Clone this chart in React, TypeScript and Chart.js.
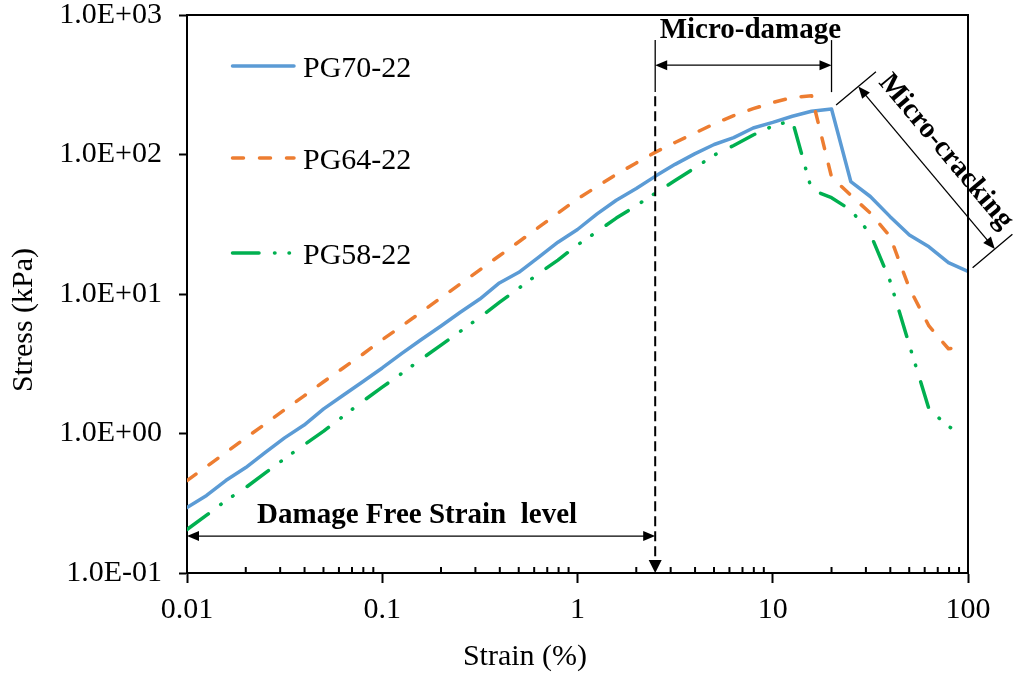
import React, { useEffect, useRef } from 'react';
import { Chart, registerables } from 'chart.js';

Chart.register(...registerables);

// Strain (%) and stress (kPa) readings for each binder grade
const PG70_STRAIN = [0.01, 0.0126, 0.0158, 0.02, 0.0251, 0.0316, 0.0398, 0.0501, 0.0631, 0.0794, 0.1, 0.126, 0.158, 0.2, 0.251, 0.316, 0.398, 0.501, 0.631, 0.794, 1, 1.26, 1.58, 2, 2.51, 3.16, 3.98, 5.01, 6.31, 7.94, 10, 12.6, 15.8, 20, 25.1, 31.6, 39.8, 50.1, 63.1, 79.4, 100];
const PG70_STRESS = [0.295, 0.36, 0.46, 0.57, 0.73, 0.93, 1.15, 1.5, 1.88, 2.35, 2.95, 3.75, 4.7, 5.9, 7.4, 9.2, 12.0, 14.3, 18.3, 23.5, 29, 37.5, 47, 57, 70, 85, 101, 118, 132, 155, 170, 188, 204, 212, 64, 50, 36, 26.5, 21.8, 16.8, 14.5];

const PG64_STRAIN = [0.01, 0.0126, 0.0158, 0.02, 0.0251, 0.0316, 0.0398, 0.0501, 0.0631, 0.0794, 0.1, 0.126, 0.158, 0.2, 0.251, 0.316, 0.398, 0.501, 0.631, 0.794, 1, 1.26, 1.58, 2, 2.51, 3.16, 3.98, 5.01, 6.31, 7.94, 10, 12.6, 15.8, 20, 25.1, 31.6, 39.8, 50.1, 63.1, 79.4, 85];
const PG64_STRESS = [0.46, 0.58, 0.73, 0.93, 1.17, 1.48, 1.86, 2.35, 2.95, 3.7, 4.7, 5.9, 7.4, 9.4, 11.8, 14.9, 18.8, 23.7, 30, 38, 48, 59, 72, 87, 104, 122, 142, 166, 190, 213, 236, 256, 264, 69, 51, 38, 26, 11, 5.9, 4.05, 4.1];

const PG58_STRAIN = [0.01, 0.0126, 0.0158, 0.02, 0.0251, 0.0316, 0.0398, 0.0501, 0.0631, 0.0794, 0.1, 0.126, 0.158, 0.2, 0.251, 0.316, 0.398, 0.501, 0.631, 0.794, 1, 1.26, 1.58, 2, 2.51, 3.16, 3.98, 5.01, 6.31, 7.94, 10, 12.6, 15.8, 20, 25.1, 31.6, 39.8, 50.1, 63.1, 79.4, 89];
const PG58_STRESS = [0.205, 0.26, 0.33, 0.41, 0.52, 0.66, 0.83, 1.04, 1.33, 1.7, 2.15, 2.7, 3.4, 4.3, 5.4, 6.8, 8.7, 11, 14, 17.5, 22.5, 28, 35, 43, 53, 65, 80, 99, 116, 138, 160, 175, 56, 49, 40, 27, 12.5, 4.3, 1.5, 1.12, 1.04];

const X_TICKS = [0.01, 0.1, 1, 10, 100];
const X_TICK_LABELS = ['0.01', '0.1', '1', '10', '100'];
const Y_TICKS = [0.1, 1, 10, 100, 1000];
const Y_TICK_LABELS = ['1.0E-01', '1.0E+00', '1.0E+01', '1.0E+02', '1.0E+03'];

// Damage stage boundaries (strain, %)
const DAMAGE_FREE_LIMIT = 2.5;
const MICRO_DAMAGE_LIMIT = 20;

const BLUE = '#5B9BD5';
const ORANGE = '#ED7D31';
const GREEN = '#00B050';
const DASH = [11, 16];
const DASH_DOT_DOT = [26.5, 15.5, 0.5, 14, 0.5, 17];
const LINE_WIDTH = 3.5;
const SERIF = '"Liberation Serif", "Times New Roman", serif';

const SERIES = [
  { label: 'PG70-22', strain: PG70_STRAIN, stress: PG70_STRESS, color: BLUE, dash: [] as number[] },
  { label: 'PG64-22', strain: PG64_STRAIN, stress: PG64_STRESS, color: ORANGE, dash: DASH },
  { label: 'PG58-22', strain: PG58_STRAIN, stress: PG58_STRESS, color: GREEN, dash: DASH_DOT_DOT },
];

function arrowHead(ctx: CanvasRenderingContext2D, tx: number, ty: number, dx: number, dy: number, len: number, half: number) {
  const bx = tx - dx * len;
  const by = ty - dy * len;
  ctx.beginPath();
  ctx.moveTo(tx, ty);
  ctx.lineTo(bx + dy * half, by - dx * half);
  ctx.lineTo(bx - dy * half, by + dx * half);
  ctx.closePath();
  ctx.fill();
}

function line(ctx: CanvasRenderingContext2D, x1: number, y1: number, x2: number, y2: number) {
  ctx.beginPath();
  ctx.moveTo(x1, y1);
  ctx.lineTo(x2, y2);
  ctx.stroke();
}

const decorations = {
  id: 'decorations',
  afterDraw(chart: any) {
    const { ctx, chartArea: a, scales } = chart;
    const x = scales.x;
    const y = scales.y;
    ctx.save();
    ctx.strokeStyle = '#000';
    ctx.fillStyle = '#000';

    // plot frame (top and right)
    ctx.lineWidth = 2;
    ctx.beginPath();
    ctx.moveTo(a.left - 1, a.top);
    ctx.lineTo(a.right, a.top);
    ctx.lineTo(a.right, a.bottom);
    ctx.stroke();

    // minor ticks on the strain axis, pointing inwards
    for (let d = 0; d < X_TICKS.length - 1; d++) {
      for (let k = 2; k <= 9; k++) {
        const px = x.getPixelForValue(X_TICKS[d] * k);
        line(ctx, px, a.bottom, px, a.bottom - 6);
      }
    }

    // axis titles
    ctx.font = `30px ${SERIF}`;
    ctx.textAlign = 'center';
    ctx.textBaseline = 'middle';
    ctx.fillText('Strain (%)', 525, 657);
    ctx.save();
    ctx.translate(24, 320);
    ctx.rotate(-Math.PI / 2);
    ctx.fillText('Stress (kPa)', 0, 0);
    ctx.restore();

    // legend
    const legendY = [66, 158, 253];
    SERIES.forEach((s, i) => {
      ctx.save();
      ctx.strokeStyle = s.color;
      ctx.lineWidth = LINE_WIDTH;
      ctx.lineCap = 'round';
      ctx.setLineDash(s.dash);
      line(ctx, 232.5, legendY[i], 294, legendY[i]);
      ctx.restore();
      ctx.textAlign = 'left';
      ctx.textBaseline = 'alphabetic';
      ctx.font = `30px ${SERIF}`;
      ctx.fillText(s.label, 303, legendY[i] + 11);
    });

    const xFree = x.getPixelForValue(DAMAGE_FREE_LIMIT);
    const xMicro = x.getPixelForValue(MICRO_DAMAGE_LIMIT);
    const x0 = x.getPixelForValue(X_TICKS[0]);

    // dashed boundary of the damage-free region
    ctx.lineWidth = 2;
    ctx.setLineDash([10, 5]);
    line(ctx, xFree, y.getPixelForValue(262), xFree, a.bottom - 12);
    ctx.setLineDash([]);
    arrowHead(ctx, xFree, a.bottom, 0, 1, 13, 6.5);

    // damage-free dimension arrow
    ctx.lineWidth = 1.3;
    const yFree = y.getPixelForValue(0.184);
    line(ctx, x0 + 10, yFree, xFree - 10, yFree);
    arrowHead(ctx, x0, yFree, -1, 0, 12, 5);
    arrowHead(ctx, xFree, yFree, 1, 0, 12, 5);
    ctx.font = `bold 29px ${SERIF}`;
    ctx.textAlign = 'center';
    ctx.textBaseline = 'alphabetic';
    ctx.fillText('Damage Free Strain  level', (x0 + xFree) / 2 - 4, 523);

    // micro-damage bracket
    const yTop = y.getPixelForValue(661);
    const yBot = y.getPixelForValue(280);
    const yMid = y.getPixelForValue(437);
    line(ctx, xFree, yTop, xFree, yBot);
    line(ctx, xMicro, yTop, xMicro, yBot);
    line(ctx, xFree + 10, yMid, xMicro - 10, yMid);
    arrowHead(ctx, xFree, yMid, -1, 0, 12, 5);
    arrowHead(ctx, xMicro, yMid, 1, 0, 12, 5);
    ctx.fillText('Micro-damage', (xFree + xMicro) / 2 + 7, 37.5);

    // micro-cracking dimension, parallel to the PG70-22 softening branch
    const iPeak = PG70_STRAIN.indexOf(MICRO_DAMAGE_LIMIT);
    const iEnd = PG70_STRAIN.length - 1;
    const p1 = { x: x.getPixelForValue(PG70_STRAIN[iPeak]), y: y.getPixelForValue(PG70_STRESS[iPeak]) };
    const p2 = { x: x.getPixelForValue(PG70_STRAIN[iEnd]), y: y.getPixelForValue(PG70_STRESS[iEnd]) };
    const L = Math.hypot(p2.x - p1.x, p2.y - p1.y);
    const ux = (p2.x - p1.x) / L;
    const uy = (p2.y - p1.y) / L;
    const nx = uy;
    const ny = -ux;
    const off = 35;
    const a1 = { x: p1.x + nx * off, y: p1.y + ny * off };
    const a2 = { x: p2.x + nx * off, y: p2.y + ny * off };
    line(ctx, p1.x + nx * 6, p1.y + ny * 6, p1.x + nx * 58, p1.y + ny * 58);
    line(ctx, p2.x + nx * 6, p2.y + ny * 6, p2.x + nx * 58, p2.y + ny * 58);
    line(ctx, a1.x + ux * 10, a1.y + uy * 10, a2.x - ux * 10, a2.y - uy * 10);
    arrowHead(ctx, a1.x, a1.y, -ux, -uy, 12, 5);
    arrowHead(ctx, a2.x, a2.y, ux, uy, 12, 5);
    ctx.save();
    ctx.translate((p1.x + p2.x) / 2 + nx * 60, (p1.y + p2.y) / 2 + ny * 60);
    ctx.rotate(Math.atan2(uy, ux));
    ctx.textBaseline = 'middle';
    ctx.fillText('Micro-cracking', 0, 0);
    ctx.restore();

    ctx.restore();
  },
};

export default function App() {
  const canvasRef = useRef<HTMLCanvasElement | null>(null);

  useEffect(() => {
    if (!canvasRef.current) return;
    const chart = new Chart(canvasRef.current, {
      type: 'line',
      data: {
        datasets: SERIES.map((s, i) => ({
          label: s.label,
          data: s.strain.map((v, j) => ({ x: v, y: s.stress[j] })),
          borderColor: s.color,
          backgroundColor: s.color,
          borderWidth: LINE_WIDTH,
          borderDash: s.dash,
          borderCapStyle: 'round' as const,
          borderJoinStyle: 'round' as const,
          pointRadius: 0,
          tension: 0,
          fill: false,
          order: SERIES.length - i,
        })),
      },
      options: {
        animation: false,
        responsive: true,
        maintainAspectRatio: false,
        devicePixelRatio: 1,
        layout: { padding: { top: 15, right: 48, left: 0, bottom: 0 } },
        plugins: { legend: { display: false }, tooltip: { enabled: false } },
        scales: {
          x: {
            type: 'logarithmic',
            min: 0.01,
            max: 100,
            afterBuildTicks: (scale: any) => {
              scale.ticks = X_TICKS.map((v) => ({ value: v, major: true }));
            },
            afterFit: (scale: any) => {
              scale.height = 103;
              scale.paddingLeft = 0;
              scale.paddingRight = 0;
            },
            ticks: {
              autoSkip: false,
              maxRotation: 0,
              padding: 12,
              color: '#000',
              font: { family: SERIF, size: 30, lineHeight: 1 },
              callback: (_v: any, i: number) => X_TICK_LABELS[i],
            },
            grid: { drawOnChartArea: false, drawTicks: true, tickLength: 10, tickWidth: 2, tickColor: '#000' },
            border: { display: true, color: '#000', width: 2 },
          },
          y: {
            type: 'logarithmic',
            min: 0.1,
            max: 1000,
            afterBuildTicks: (scale: any) => {
              scale.ticks = Y_TICKS.map((v) => ({ value: v, major: true }));
            },
            afterFit: (scale: any) => {
              scale.width = 187;
              scale.paddingTop = 0;
              scale.paddingBottom = 0;
            },
            ticks: {
              autoSkip: false,
              padding: 17,
              color: '#000',
              font: { family: SERIF, size: 30, lineHeight: 1 },
              callback: (_v: any, i: number) => Y_TICK_LABELS[i],
            },
            grid: { drawOnChartArea: false, drawTicks: true, tickLength: 8, tickWidth: 2, tickColor: '#000' },
            border: { display: true, color: '#000', width: 2 },
          },
        },
      } as any,
      plugins: [decorations],
    });
    return () => chart.destroy();
  }, []);

  return (
    <div style={{ position: 'fixed', left: 0, top: 0, width: 1016, height: 676, background: '#fff' }}>
      <canvas ref={canvasRef} />
    </div>
  );
}
